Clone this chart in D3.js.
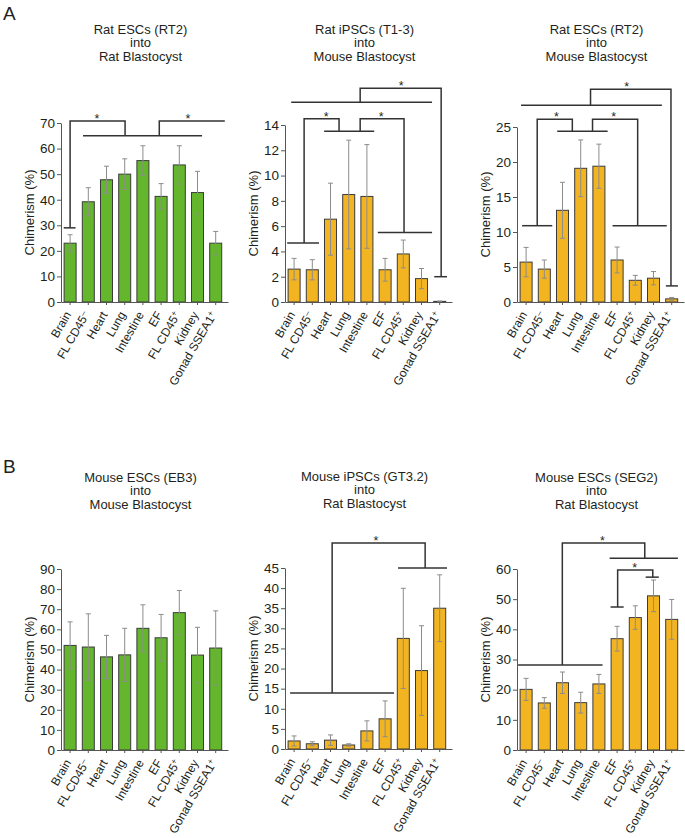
<!DOCTYPE html>
<html>
<head>
<meta charset="utf-8">
<script src="https://cdn.jsdelivr.net/npm/d3@7"></script>
<style>
  body { margin: 0; background: #fff; }
  text { font-family: "Liberation Sans", Arial, sans-serif; fill: #231f20; }
</style>
</head>
<body>
<div id="chart"></div>
<script>
// categories shared by all six panels ("-"/"+" at the end is a superscript)
const categories = ["Brain", "FL CD45-", "Heart", "Lung", "Intestine", "EF", "FL CD45+", "Kidney", "Gonad SSEA1+"];

// A: rat cells
const ratEscRatMean = [23.0, 39.2, 47.8, 50.0, 55.3, 41.3, 53.6, 42.8, 23.0];
const ratEscRatErr = [3.3, 5.5, 5.3, 6.0, 5.8, 5.0, 7.5, 8.3, 4.6];
const ratIpsMouseMean = [2.6, 2.55, 6.55, 8.5, 8.35, 2.55, 3.8, 1.85, 0.05];
const ratIpsMouseErr = [0.85, 0.8, 2.85, 4.3, 4.1, 0.9, 1.1, 0.8, 0.03];
const ratEscMouseMean = [5.7, 4.7, 13.1, 19.1, 19.4, 6.0, 3.1, 3.4, 0.45];
const ratEscMouseErr = [2.1, 1.3, 4.0, 4.05, 3.15, 1.85, 0.7, 0.95, 0.2];

// B: mouse cells
const mouseEscMouseMean = [52.0, 51.2, 46.3, 47.3, 60.5, 55.8, 68.3, 47.2, 50.7];
const mouseEscMouseErr = [11.7, 16.5, 10.7, 13.2, 11.7, 11.6, 11.0, 13.8, 18.5];
const mouseIpsRatMean = [2.0, 1.3, 2.2, 1.0, 4.5, 7.5, 27.5, 19.5, 35.0];
const mouseIpsRatErr = [1.25, 0.5, 1.3, 0.3, 2.5, 4.45, 12.45, 11.15, 8.3];
const mouseEscRatMean = [20.1, 15.6, 22.3, 15.7, 21.9, 36.9, 43.9, 51.1, 43.3];
const mouseEscRatErr = [3.65, 1.75, 3.55, 3.45, 3.15, 4.1, 3.9, 5.25, 6.6];

// y tick labels
const ticksA1 = [0, 10, 20, 30, 40, 50, 60, 70];
const ticksA2 = [0, 2, 4, 6, 8, 10, 12, 14];
const ticksA3 = [0, 5, 10, 15, 20, 25];
const ticksB1 = [0, 10, 20, 30, 40, 50, 60, 70, 80, 90];
const ticksB2 = [0, 5, 10, 15, 20, 25, 30, 35, 40, 45];
const ticksB3 = [0, 10, 20, 30, 40, 50, 60];

// significance brackets as [category index, value] polylines, stars as [index, value]
const bracketsA1 = [
  [[-0.35, 29], [0.3, 29]],
  [[0, 29], [0, 70.8], [3.02, 70.8], [3.02, 65]],
  [[0.71, 65], [7.25, 65]],
  [[4.9, 65], [4.9, 70.8], [8.5, 70.8]]
];
const starsA1 = [[1.48, 70.8], [6.48, 70.8]];

const bracketsA2 = [
  [[3.63, 15.8], [3.63, 16.9], [8.08, 16.9], [8.08, 2.0]],
  [[7.7, 2.0], [8.4, 2.0]],
  [[-0.16, 15.8], [7.58, 15.8]],
  [[-0.38, 4.67], [1.37, 4.67]],
  [[0.55, 4.67], [0.55, 14.5], [2.47, 14.5], [2.47, 13.5]],
  [[1.65, 13.5], [4.4, 13.5]],
  [[3.63, 13.5], [3.63, 14.5], [6.04, 14.5], [6.04, 5.5]],
  [[4.6, 5.5], [7.58, 5.5]]
];
const starsA2 = [[5.88, 16.9], [1.76, 14.5], [4.78, 14.5]];

const bracketsA3 = [
  [[3.54, 28.1], [3.54, 30.4], [7.96, 30.4], [7.96, 2.3]],
  [[7.68, 2.3], [8.34, 2.3]],
  [[-0.28, 28.1], [7.46, 28.1]],
  [[-0.22, 10.9], [1.44, 10.9]],
  [[0.61, 10.9], [0.61, 26.1], [2.54, 26.1], [2.54, 24.4]],
  [[1.71, 24.4], [4.48, 24.4]],
  [[3.65, 24.4], [3.65, 26.1], [6.13, 26.1], [6.13, 10.9]],
  [[4.75, 10.9], [7.73, 10.9]]
];
const starsA3 = [[5.52, 30.4], [1.66, 26.1], [4.81, 26.1]];

const bracketsB2 = [
  [[-0.22, 13.9], [5.49, 13.9]],
  [[2.09, 13.9], [2.09, 51.2], [7.2, 51.2], [7.2, 45]],
  [[5.71, 45], [8.4, 45]]
];
const starsB2 = [[4.5, 51.2]];

const bracketsB3 = [
  [[-0.44, 28.2], [4.2, 28.2]],
  [[1.99, 28.2], [1.99, 68.6], [6.52, 68.6], [6.52, 63.6]],
  [[4.59, 63.6], [8.34, 63.6]],
  [[4.64, 47.4], [5.36, 47.4]],
  [[5.03, 47.4], [5.03, 59.7], [6.96, 59.7], [6.96, 57.3]],
  [[6.57, 57.3], [7.29, 57.3]]
];
const starsB3 = [[4.2, 68.6], [5.97, 59.7]];

const green = "#64b72c";
const orange = "#f3b422";

const panels = [
  { title: ["Rat ESCs (RT2)", "into", "Rat Blastocyst"], mean: ratEscRatMean, err: ratEscRatErr, ticks: ticksA1, color: green, x0: 61, y0: 302, h: 179, brackets: bracketsA1, stars: starsA1 },
  { title: ["Rat iPSCs (T1-3)", "into", "Mouse Blastocyst"], mean: ratIpsMouseMean, err: ratIpsMouseErr, ticks: ticksA2, color: orange, x0: 285, y0: 302, h: 177, brackets: bracketsA2, stars: starsA2 },
  { title: ["Rat ESCs (RT2)", "into", "Mouse Blastocyst"], mean: ratEscMouseMean, err: ratEscMouseErr, ticks: ticksA3, color: orange, x0: 517, y0: 302, h: 175, brackets: bracketsA3, stars: starsA3 },
  { title: ["Mouse ESCs (EB3)", "into", "Mouse Blastocyst"], mean: mouseEscMouseMean, err: mouseEscMouseErr, ticks: ticksB1, color: green, x0: 61, y0: 750, h: 181, brackets: [], stars: [] },
  { title: ["Mouse iPSCs (GT3.2)", "into", "Rat Blastocyst"], mean: mouseIpsRatMean, err: mouseIpsRatErr, ticks: ticksB2, color: orange, x0: 285, y0: 749, h: 181, brackets: bracketsB2, stars: starsB2 },
  { title: ["Mouse ESCs (SEG2)", "into", "Rat Blastocyst"], mean: mouseEscRatMean, err: mouseEscRatErr, ticks: ticksB3, color: orange, x0: 517, y0: 750, h: 181, brackets: bracketsB3, stars: starsB3 }
];

const svg = d3.select("#chart")
  .append("svg")
  .attr("width", 685)
  .attr("height", 838);

// panel letters
svg.append("text").attr("x", 3).attr("y", 19.5).style("font-size", "19px").text("A");
svg.append("text").attr("x", 3).attr("y", 473).style("font-size", "19px").text("B");

panels.forEach(p => {
  const axisLen = 167;
  const g = svg.append("g");

  const x = d3.scaleBand()
    .domain(categories)
    .range([p.x0, p.x0 + axisLen])
    .paddingInner(0.34)
    .paddingOuter(0.258)
    .align(0.33);

  const y = d3.scaleLinear()
    .domain([0, d3.max(p.ticks)])
    .range([p.y0, p.y0 - p.h]);

  const px = i => x(categories[0]) + x.bandwidth() / 2 + i * x.step();

  // title
  const cx = p.x0 + axisLen / 2 - 4;
  g.append("text")
    .attr("text-anchor", "middle")
    .style("font-size", "13px")
    .selectAll("tspan")
    .data(p.title)
    .join("tspan")
    .attr("x", cx)
    .attr("y", (d, i) => p.y0 - 268 + i * 13.4)
    .text(d => d);

  // bars
  g.selectAll("rect.bar")
    .data(p.mean)
    .join("rect")
    .attr("class", "bar")
    .attr("x", (d, i) => x(categories[i]))
    .attr("width", x.bandwidth())
    .attr("y", d => y(d))
    .attr("height", d => y(0) - y(d))
    .attr("fill", p.color)
    .attr("stroke", "#3b3b3b")
    .attr("stroke-width", 1);

  // error bars
  const eb = g.selectAll("g.err")
    .data(p.mean.map((m, i) => ({ m, e: p.err[i], i })))
    .join("g")
    .attr("class", "err")
    .attr("stroke", "#8c8c8c")
    .attr("stroke-width", 1);
  eb.append("line")
    .attr("x1", d => px(d.i)).attr("x2", d => px(d.i))
    .attr("y1", d => y(d.m + d.e)).attr("y2", d => y(Math.max(0, d.m - d.e)));
  eb.append("line")
    .attr("x1", d => px(d.i) - 2.5).attr("x2", d => px(d.i) + 2.5)
    .attr("y1", d => y(d.m + d.e)).attr("y2", d => y(d.m + d.e));
  eb.append("line")
    .attr("x1", d => px(d.i) - 2.5).attr("x2", d => px(d.i) + 2.5)
    .attr("y1", d => y(Math.max(0, d.m - d.e))).attr("y2", d => y(Math.max(0, d.m - d.e)));

  // y axis
  const ya = g.append("g")
    .attr("transform", `translate(${p.x0},0)`)
    .call(d3.axisLeft(y).tickValues(p.ticks).tickSize(4).tickSizeOuter(0).tickPadding(2));
  ya.select(".domain").attr("stroke", "#555");
  ya.selectAll(".tick line").attr("stroke", "#555");
  ya.selectAll(".tick text")
    .style("font-size", "13.5px")
    .style("font-family", "'Liberation Sans', Arial, sans-serif")
    .attr("fill", "#231f20");

  // x axis
  const xa = g.append("g")
    .attr("transform", `translate(0,${p.y0})`)
    .call(d3.axisBottom(x).tickSize(3).tickSizeOuter(0).tickFormat(""));
  xa.select(".domain").attr("stroke", "#555");
  xa.selectAll(".tick line").attr("stroke", "#555");

  // category labels
  const lab = g.selectAll("text.cat")
    .data(categories)
    .join("text")
    .attr("class", "cat")
    .attr("text-anchor", "end")
    .style("font-size", "12px")
    .attr("transform", d => `translate(${x(d) + x.bandwidth() / 2 + 1.5},${p.y0 + 12.5}) rotate(-60)`);
  lab.each(function (d) {
    const t = d3.select(this);
    const sup = /[+-]$/.test(d) ? d.slice(-1) : null;
    t.append("tspan").text(sup ? d.slice(0, -1) : d);
    if (sup) {
      t.append("tspan").attr("dy", "-0.45em").style("font-size", "8.5px").text(sup === "-" ? "\u2013" : "+");
    }
  });

  // y axis title
  g.append("text")
    .attr("text-anchor", "middle")
    .style("font-size", "13px")
    .attr("transform", `translate(${p.x0 - 27},${y(d3.max(p.ticks) / 2)}) rotate(-90)`)
    .text("Chimerism (%)");

  // brackets
  const line = d3.line().x(d => px(d[0])).y(d => y(d[1]));
  g.selectAll("path.br")
    .data(p.brackets)
    .join("path")
    .attr("class", "br")
    .attr("d", line)
    .attr("fill", "none")
    .attr("stroke", "#333")
    .attr("stroke-width", 1.5);

  g.selectAll("text.star")
    .data(p.stars)
    .join("text")
    .attr("class", "star")
    .attr("text-anchor", "middle")
    .style("font-size", "12.5px")
    .attr("x", d => px(d[0]))
    .attr("y", d => y(d[1]) + 2)
    .text("*");
});
</script>
</body>
</html>
